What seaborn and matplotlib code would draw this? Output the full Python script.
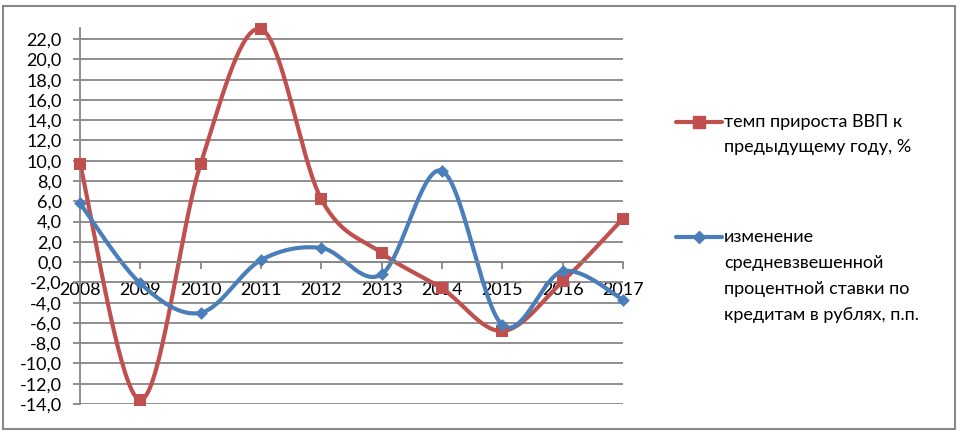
import numpy as np
import pandas as pd
import matplotlib
matplotlib.use("Agg")
import matplotlib.pyplot as plt
import seaborn as sns
from matplotlib.lines import Line2D
from matplotlib.patches import Rectangle
from matplotlib.ticker import FuncFormatter

years = [2008, 2009, 2010, 2011, 2012, 2013, 2014, 2015, 2016, 2017]
gdp_growth = [9.7, -13.6, 9.7, 23.0, 6.2, 0.9, -2.6, -6.8, -1.9, 4.3]
rate_change = [5.8, -2.1, -5.0, 0.2, 1.4, -1.2, 9.0, -6.2, -0.9, -3.7]
label_gdp = ["темп прироста ВВП к", "предыдущему году, %"]
label_rate = ["изменение", "средневзвешенной", "процентной ставки по", "кредитам в рублях, п.п."]

RED = "#C0504D"
BLUE = "#4A7EBB"
GRID = "#878787"
FONT = "Lato"
FS = 13


def smooth(x, y, n=40):
    """Excel-like smoothed line (cubic Bezier through the points)."""
    P = np.column_stack([x, y]).astype(float)
    ext = np.vstack([P[0], P, P[-1]])
    out = []
    t = np.linspace(0, 1, n)[:, None]
    for i in range(len(P) - 1):
        p0, p3 = P[i], P[i + 1]
        p1 = p0 + (ext[i + 2] - ext[i]) / 6.0
        p2 = p3 - (ext[i + 3] - ext[i + 1]) / 6.0
        seg = ((1 - t) ** 3) * p0 + 3 * ((1 - t) ** 2) * t * p1 + 3 * (1 - t) * t ** 2 * p2 + t ** 3 * p3
        out.append(seg if i == 0 else seg[1:])
    c = np.vstack(out)
    return c[:, 0], c[:, 1]


sns.set_style("white")
plt.rcParams["font.family"] = [FONT, "DejaVu Sans"]

fig = plt.figure(figsize=(9.66, 4.33), dpi=100)
W, H = 966, 433
ax = fig.add_axes([80 / W, (H - 404) / H, (623 - 80) / W, (404 - 28) / H])

for vals, color, marker, ms in [(gdp_growth, RED, "s", 9), (rate_change, BLUE, "D", 6.5)]:
    sx, sy = smooth(years, vals)
    df = pd.DataFrame({"x": sx, "y": sy})
    sns.lineplot(data=df, x="x", y="y", sort=False, estimator=None, color=color,
                 linewidth=3.0, ax=ax, clip_on=False)
    pts = pd.DataFrame({"x": years, "y": vals})
    sns.scatterplot(data=pts, x="x", y="y", marker=marker, s=ms ** 2, color=color,
                    edgecolor=color, linewidth=0, ax=ax, clip_on=False, zorder=3)

ax.set_xlim(2008, 2017)
ax.set_ylim(-14, 23.1)
ax.set_yticks(np.arange(-14, 23, 2))
ax.yaxis.set_major_formatter(FuncFormatter(lambda v, p: f"{v:.1f}".replace(".", ",")))
ax.set_xticks(years)
ax.set_xticklabels([str(y) for y in years])
ax.set_xlabel("")
ax.set_ylabel("")
ax.grid(axis="y", color=GRID, linewidth=1.3)
ax.grid(axis="x", visible=False)
ax.set_axisbelow(True)

for s in ["top", "right"]:
    ax.spines[s].set_visible(False)
ax.spines["left"].set_color(GRID)
ax.spines["left"].set_linewidth(1.3)
ax.spines["bottom"].set_position(("data", 0))
ax.spines["bottom"].set_color(GRID)
ax.spines["bottom"].set_linewidth(1.3)

ax.tick_params(axis="y", direction="out", length=5, width=1.3, color=GRID, pad=8,
               labelsize=FS, labelcolor="black", left=True)
ax.tick_params(axis="x", direction="out", length=5, width=1.3, color=GRID, pad=9,
               labelsize=FS, labelcolor="black", bottom=True)

# outer chart border
fig.patches.append(Rectangle((3 / W, (H - 429) / H), (955 - 3) / W, (429 - 6) / H,
                             transform=fig.transFigure, fill=False,
                             edgecolor="#888888", linewidth=1.5))

# legend (manual, Excel style: handle aligned with first text line)
def legend_entry(y_px, color, marker, ms, lines, step=25.8):
    yf = (H - y_px) / H
    fig.add_artist(Line2D([676 / W, 722 / W], [yf, yf], transform=fig.transFigure,
                          color=color, linewidth=3.0))
    fig.add_artist(Line2D([699 / W], [yf], transform=fig.transFigure, color=color,
                          marker=marker, markersize=ms, linestyle="none"))
    for k, t in enumerate(lines):
        fig.text(724 / W, (H - (y_px + k * step)) / H, t, ha="left", va="center",
                 fontsize=FS, color="black", family=[FONT, "DejaVu Sans"])

legend_entry(122, RED, "s", 9, label_gdp, step=25)
legend_entry(237, BLUE, "D", 6.5, label_rate, step=25.9)

fig.savefig("out.png", dpi=100)
